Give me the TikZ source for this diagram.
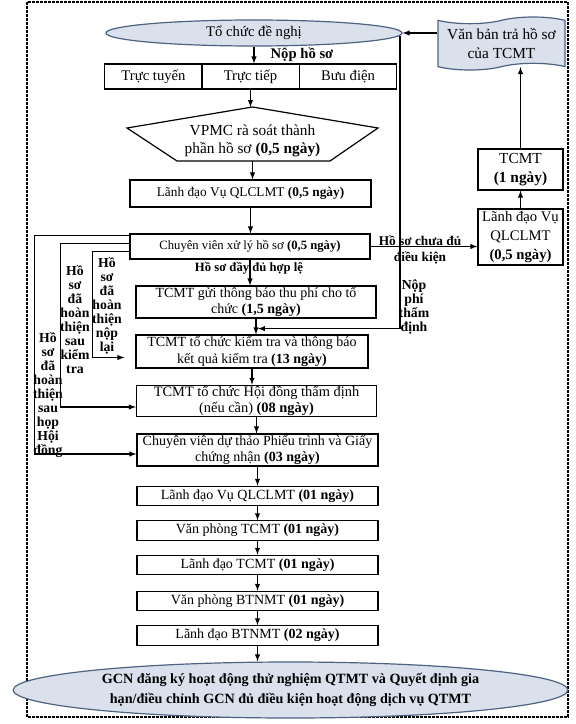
\documentclass[tikz,border=0pt]{standalone}
\usepackage{fontspec}
\setmainfont{Liberation Serif}
\usetikzlibrary{arrows,shapes,calc,positioning}
\definecolor{paleblue}{RGB}{218,224,236}
\definecolor{slateblue}{RGB}{78,98,130}
\tikzstyle{stepbox}=[rectangle,draw,line width=0.9pt,inner sep=0.5pt,align=center,font=\fontsize{10.5}{12.5}\selectfont]
\tikzstyle{oval}=[ellipse,draw=slateblue,line width=0.9pt,fill=paleblue,inner sep=0pt,align=center]
\tikzstyle{edge} = [draw,line width=0.8pt,-latex]
\tikzstyle{note} = [font=\fontsize{10.3}{10.5}\selectfont\bfseries,align=center,inner sep=0pt]

\begin{document}
\begin{tikzpicture}[x=0.75pt,y=-0.75pt]

    \useasboundingbox (0,0) rectangle (575,724);
    \draw[dash pattern=on 2pt off 1pt, line width=0.8pt] (27,2) rectangle (568,717);

    % top: organisation and ways of submitting
    \node[oval, minimum width=222pt, minimum height=19.5pt, font=\fontsize{11}{13}\selectfont] (org) at (254,33) {Tổ chức đề nghị};
    \node[note, font=\fontsize{11}{13}\selectfont\bfseries] (submit) at (302,55) {Nộp hồ sơ};

    \foreach \x/\name/\txt in {153.5/online/Trực tuyến, 250.5/direct/Trực tiếp, 348/post/Bưu điện}
        \node[stepbox, minimum width=73pt, minimum height=18.75pt, font=\fontsize{11}{13}\selectfont] (\name) at (\x,76.5) {\txt};

    \node[align=center, inner sep=0pt, font=\fontsize{11.5}{13.5}\selectfont] (vpmc) at (252.5,141) {VPMC rà soát thành\\phần hồ sơ \textbf{(0,5 ngày)}};
    \coordinate (vpmctop) at ($(vpmc)+(0,-34)$);
    \coordinate (vpmcbot) at ($(vpmc)+(0,20)$);
    \draw[line width=0.9pt] (vpmctop) -- ($(vpmc)+(-125.5,-13)$) -- ($(vpmc)+(-75.5,20)$) -- ($(vpmc)+(77.5,20)$) -- ($(vpmc)+(125.5,-13)$) -- cycle;

    % main column
    \node[stepbox, minimum width=180.75pt, minimum height=20.25pt, font=\fontsize{10}{12}\selectfont] (lead) at (250.5,193.5) {Lãnh đạo Vụ QLCLMT \textbf{(0,5 ngày)}};
    \node[stepbox, minimum width=180pt, minimum height=18.75pt, font=\fontsize{9.5}{11}\selectfont] (staff) at (250,246.5) {Chuyên viên xử lý hồ sơ \textbf{(0,5 ngày)}};
    \node[note, font=\fontsize{9.5}{11}\selectfont\bfseries] (valid) at (249,268) {Hồ sơ đầy đủ hợp lệ};
    \node[stepbox, minimum width=180pt, minimum height=24pt] (fee) at (256,302) {TCMT gửi thông báo thu phí cho tổ\\chức \textbf{(1,5 ngày)}};
    \node[stepbox, minimum width=174pt, minimum height=24.75pt] (check) at (252,351.5) {TCMT tổ chức kiểm tra và thông báo\\kết quả kiểm tra \textbf{(13 ngày)}};
    \node[stepbox, minimum width=180pt, minimum height=22.5pt, font=\fontsize{10.8}{12.3}\selectfont] (council) at (256.5,401) {TCMT tổ chức Hội đồng thẩm định\\(nếu cần) \textbf{(08 ngày)}};
    \node[stepbox, minimum width=180.75pt, minimum height=24pt] (draft) at (257.5,450) {Chuyên viên dự thảo Phiếu trình và Giấy\\chứng nhận \textbf{(03 ngày)}};

    \foreach \y/\name/\txt in {496/lead3/{Lãnh đạo Vụ QLCLMT \textbf{(01 ngày)}}, 530.5/office/{Văn phòng TCMT \textbf{(01 ngày)}}, 565/chief/{Lãnh đạo TCMT \textbf{(01 ngày)}}, 601/office2/{Văn phòng BTNMT \textbf{(01 ngày)}}, 635.5/minister/{Lãnh đạo BTNMT \textbf{(02 ngày)}}}
        \node[stepbox, minimum width=180.75pt, minimum height=14.5pt] (\name) at (257.5,\y) {\txt};

    \node[oval, minimum width=416pt, minimum height=42pt, font=\fontsize{10.6}{14.5}\selectfont\bfseries] (result) at (290.5,690) {GCN đăng ký hoạt động thử nghiệm QTMT và Quyết định gia\\hạn/điều chỉnh GCN đủ điều kiện hoạt động dịch vụ QTMT};

    % right column: returned file
    \node[tape, draw=slateblue, fill=paleblue, line width=0.9pt, minimum width=95.25pt, minimum height=39.75pt, align=center, inner sep=0pt, font=\fontsize{11.5}{14}\selectfont] (doc) at (501.5,43.5) {Văn bản trả hồ sơ\\của TCMT};
    \node[stepbox, minimum width=63.75pt, minimum height=30.75pt, font=\fontsize{11.5}{14}\selectfont] (tcmt) at (520.5,169.5) {TCMT\\\textbf{(1 ngày)}};
    \node[stepbox, minimum width=63.75pt, minimum height=42pt, font=\fontsize{11}{14}\selectfont] (lead2) at (520.5,237) {Lãnh đạo Vụ\\QLCLMT\\\textbf{(0,5 ngày)}};
    \node[note, font=\fontsize{10}{12}\selectfont\bfseries] (lack) at (420,250) {Hồ sơ chưa đủ\\điều kiện};

    % labels of the side loops
    \node[note] (redoA) at (107,306) {Hồ\\sơ\\đã\\hoàn\\thiện\\nộp\\lại};
    \node[note] (redoB) at (75,320) {Hồ\\sơ\\đã\\hoàn\\thiện\\sau\\kiểm\\tra};
    \node[note] (redoC) at (48,395) {Hồ\\sơ\\đã\\hoàn\\thiện\\sau\\họp\\Hội\\đồng};
    \node[note] (feelbl) at (414,307) {Nộp\\phí\\thẩm\\định};
    \coordinate (feein) at ($(fee.south)+(2,10)$);

    % connectors
    \path[edge] (org.south) -- (org.south |- direct.north);
    \path[edge] (direct.south) -- (direct.south |- vpmctop);
    \path[edge] (vpmcbot) -- (vpmcbot |- lead.north);

    \foreach \source/\dest in {lead/staff, staff/fee, fee/check, check/council, council/draft, draft/lead3, lead3/office, office/chief, chief/office2, office2/minister, minister/result}
        \path[edge] (\source.south) -- (\source.south |- \dest.north);

    \path[edge] (staff.east) -- (staff.east -| lead2.west);
    \path[edge] (lead2.north) -- (tcmt.south);
    \path[edge] (tcmt.north) -- (tcmt.north |- doc.south);
    \path[edge] (doc.west |- org.east) -- (org.east);
    \path[edge] (org.-1) |- (feein);

    \path[edge] ($(staff.north west)+(0,2)$) -- ++(-95,0) |- ($(draft.west)+(0,4)$);
    \path[edge] ($(staff.north west)+(0,10)$) -- ++(-69,0) |- ($(council.west)+(0,6)$);
    \path[edge] ($(staff.north west)+(0,18)$) -- ++(-37,0) |- ($(check.west)+(-11,6)$);

\end{tikzpicture}
\end{document}
